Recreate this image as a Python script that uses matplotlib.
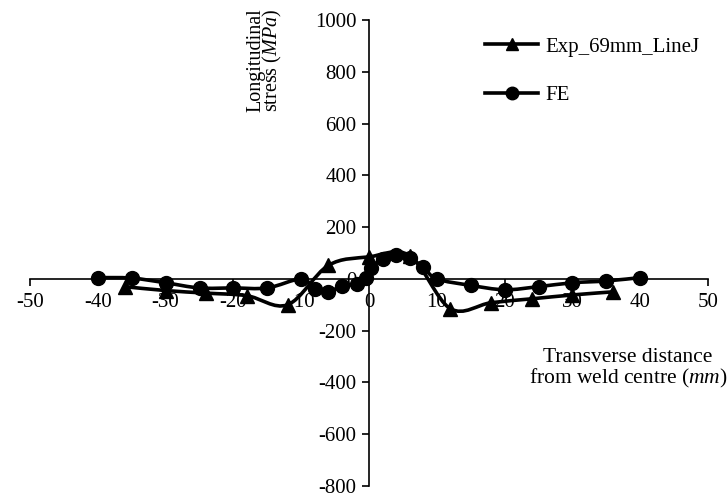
import matplotlib
matplotlib.use("Agg")
import matplotlib.pyplot as plt
import numpy as np
from matplotlib.path import Path
from matplotlib.patches import PathPatch
from matplotlib.lines import Line2D

plt.rcParams['font.family'] = ['Liberation Serif', 'DejaVu Serif']
plt.rcParams['mathtext.fontset'] = 'custom'
plt.rcParams['mathtext.rm'] = 'Liberation Serif'
plt.rcParams['mathtext.it'] = 'Liberation Serif:italic'

# data
exp_x = [-36, -30, -24, -18, -12, -6, 0, 6, 12, 18, 24, 30, 36]
exp_y = [-30, -45, -55, -65, -100, 52, 85, 90, -115, -92, -77, -62, -50]

fe_x = [-40, -35, -30, -25, -20, -15, -10, -8, -6, -4, -1.8, -0.5, 0.3,
        2, 4, 6, 8, 10, 15, 20, 25, 30, 35, 40]
fe_y = [5, 3, -15, -35, -35, -35, 0, -38, -50, -27, -20, 4, 42,
        78, 92, 80, 45, 0, -25, -42, -30, -15, -8, 5]

x_ticks = [-50, -40, -30, -20, -10, 0, 10, 20, 30, 40, 50]
y_ticks = [-800, -600, -400, -200, 0, 200, 400, 600, 800, 1000]

FS = 15


def smooth_path(xs, ys):
    # excel style smoothed line: bezier segments, catmull-rom control points
    p = np.column_stack([xs, ys]).astype(float)
    p = np.vstack([p[0], p, p[-1]])
    verts = [p[1]]
    codes = [Path.MOVETO]
    for i in range(1, len(p) - 2):
        c1 = p[i] + (p[i + 1] - p[i - 1]) / 6
        c2 = p[i + 1] - (p[i + 2] - p[i]) / 6
        verts += [c1, c2, p[i + 1]]
        codes += [Path.CURVE4] * 3
    return Path(verts, codes)


fig = plt.figure(figsize=(7.28, 4.99), dpi=100)
ax = fig.add_axes([30 / 728, 13 / 499, 678 / 728, 466 / 499])

for xs, ys, mk in [(exp_x, exp_y, '^'), (fe_x, fe_y, 'o')]:
    ax.add_patch(PathPatch(smooth_path(xs, ys), fill=False, lw=2.6,
                           edgecolor='black', zorder=3))
    ax.plot(xs, ys, ls='none', marker=mk, ms=10, color='black', zorder=4)

ax.set_xlim(-50, 50)
ax.set_ylim(-800, 1000)
ax.set_xticks(x_ticks)
ax.set_yticks(y_ticks)
ax.set_xticklabels([str(v) for v in x_ticks])
ax.set_yticklabels([str(v) for v in y_ticks])

for s in ['top', 'right']:
    ax.spines[s].set_visible(False)
ax.spines['left'].set_position(('data', 0))
ax.spines['bottom'].set_position(('data', 0))
ax.spines['left'].set_linewidth(1.2)
ax.spines['bottom'].set_linewidth(1.2)
ax.tick_params(axis='both', direction='out', length=5, width=1.2,
               labelsize=FS, pad=4)
ax.tick_params(axis='x', pad=5)
ax.patch.set_visible(False)

fig.text(265 / 728, 1 - 60 / 499, 'Longitudinal\nstress ($\\it{MPa}$)',
         rotation=90, ha='center', va='center', multialignment='center',
         fontsize=FS - 0.5, linespacing=0.72)
fig.text(628 / 728, 1 - 369 / 499, 'Transverse distance\nfrom weld centre ($\\it{mm}$)',
         ha='center', va='center', multialignment='center',
         fontsize=FS + 0.5, linespacing=1.0)

handles = [Line2D([], [], color='black', lw=2.6, marker='^', ms=8),
           Line2D([], [], color='black', lw=2.6, marker='o', ms=9)]
ax.legend(handles, ['Exp_69mm_LineJ', 'FE'], loc='upper left',
          bbox_to_anchor=(485 / 728, 1 - 37 / 499), bbox_transform=fig.transFigure,
          frameon=False, fontsize=FS, handlelength=2.55, handletextpad=0.35,
          labelspacing=1.4, borderpad=0, borderaxespad=0)

fig.savefig('out.png', dpi=100)
